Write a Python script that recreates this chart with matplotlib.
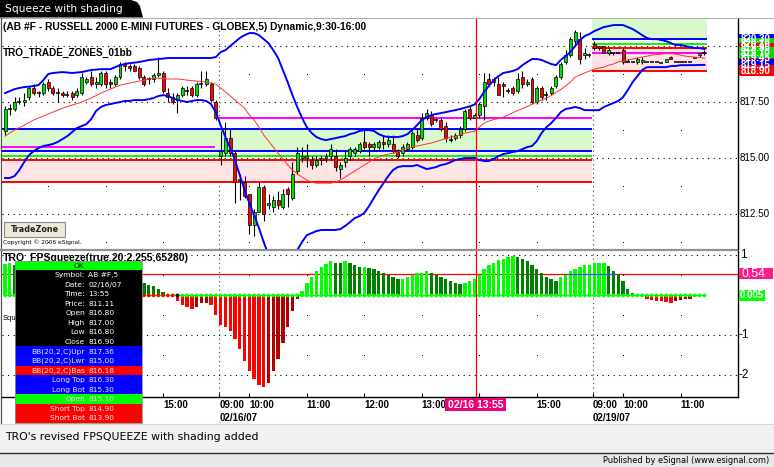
import matplotlib
matplotlib.use("Agg")
import matplotlib.pyplot as plt
import matplotlib.transforms as mtransforms
from matplotlib.patches import Rectangle, Polygon
import numpy as np

NARROW = ['Liberation Sans Narrow', 'Liberation Sans', 'DejaVu Sans']
ARIAL = ['Liberation Sans', 'DejaVu Sans']
VERD = ['DejaVu Sans']
plt.rcParams['font.family'] = ARIAL

# ---------------- data: 5-minute bars (02/15 12:15 .. 02/19 11:20) ----------------
open_ = [816.2, 817.2, 817.2, 817.5, 817.5, 817.7, 818.1, 817.9, 817.9, 818.4,
         818.1, 817.9, 817.9, 817.8, 817.9, 817.8, 817.9, 818.4, 818.6, 818.3,
         818.3, 818.8, 818.4, 818.3, 818.6, 819.2, 819.1, 819.1, 819.0, 818.6,
         818.5, 818.5, 818.7, 818.8, 817.9, 817.7, 817.6, 817.8, 818.0, 818.1,
         817.8, 818.3, 818.3, 818.3, 817.5, 815.1, 815.2, 815.9, 815.2, 814.0,
         813.9, 813.4, 812.0, 812.6, 813.7, 812.9, 812.8, 813.1, 812.8, 813.6,
         813.2, 814.4, 815.0, 815.0, 814.9, 814.7, 815.0, 815.0, 815.1, 815.1,
         814.5, 814.8, 815.1, 815.2, 815.3, 815.7, 815.6, 815.5, 815.5, 815.7,
         815.6, 815.6, 815.3, 815.2, 815.4, 815.5, 816.0, 815.9, 816.8, 816.9,
         816.7, 816.7, 816.4, 815.8, 815.9, 816.0, 816.3, 817.2, 816.8, 816.9,
         817.3, 818.5, 818.5, 818.3, 818.3, 818.0, 818.1, 818.0, 818.6, 818.3,
         818.5, 817.5, 818.1, 817.8, 817.9, 818.2, 818.6, 819.3, 819.6, 820.2,
         820.3, 819.6, 819.6, 820.1, 820.0, 820.0, 819.7, 819.7, 819.7, 819.8,
         819.3, 819.3, 819.3, 819.3, 819.3, 819.3, 819.3, 819.25, 819.3, 819.5,
         819.3, 819.3, 819.3, 819.3, 819.45, 819.6, 819.7]
high_ = [817.3, 817.4, 817.7, 817.7, 817.9, 818.2, 818.3, 818.0, 818.4, 818.5,
         818.2, 818.1, 818.0, 818.0, 818.0, 818.1, 818.8, 818.6, 818.9, 818.6,
         818.9, 818.9, 818.5, 818.7, 819.3, 819.3, 819.2, 819.2, 819.1, 818.7,
         818.6, 818.8, 819.5, 818.9, 818.1, 817.9, 817.9, 818.2, 818.2, 818.2,
         818.4, 818.9, 818.9, 818.4, 817.6, 816.2, 816.6, 816.3, 815.3, 814.3,
         814.2, 813.4, 812.7, 813.9, 813.8, 813.4, 813.3, 813.5, 813.6, 813.7,
         814.8, 815.5, 815.5, 815.6, 815.1, 815.1, 815.1, 815.2, 815.6, 815.4,
         814.8, 815.3, 815.5, 815.5, 815.7, 816.3, 815.7, 815.7, 815.8, 816.0,
         816.0, 816.0, 815.4, 815.6, 815.7, 816.2, 816.3, 817.0, 817.2, 817.1,
         816.8, 816.8, 816.6, 816.0, 816.1, 816.4, 817.2, 817.3, 817.0, 817.5,
         818.8, 818.8, 818.6, 818.6, 818.4, 818.1, 818.2, 818.8, 818.9, 818.5,
         818.6, 818.2, 818.2, 818.0, 818.2, 818.7, 819.3, 819.8, 820.4, 820.7,
         820.6, 819.9, 819.7, 820.2, 820.0, 820.0, 819.9, 819.7, 819.7, 819.9,
         819.4, 819.3, 819.5, 819.5, 819.3, 819.3, 819.3, 819.25, 819.4, 819.55,
         819.3, 819.3, 819.3, 819.3, 819.45, 819.7, 819.8]
low_ = [816.0, 816.9, 817.1, 817.4, 817.3, 817.6, 817.8, 817.7, 817.8, 818.0,
        817.8, 817.5, 817.7, 817.7, 817.6, 817.7, 817.8, 818.3, 818.2, 818.1,
        818.2, 818.1, 818.1, 818.2, 818.5, 818.9, 818.9, 818.9, 818.5, 818.2,
        818.3, 818.4, 818.6, 817.9, 817.5, 817.4, 817.0, 817.7, 817.8, 817.7,
        817.7, 818.1, 818.2, 817.5, 816.7, 814.7, 815.1, 815.1, 813.0, 813.1,
        813.2, 811.6, 811.5, 812.6, 812.2, 812.7, 812.6, 812.7, 812.7, 812.8,
        813.1, 814.3, 814.8, 814.6, 814.5, 814.6, 814.7, 814.8, 814.9, 814.4,
        814.1, 814.6, 814.9, 815.1, 815.2, 815.4, 815.1, 815.3, 815.4, 815.4,
        815.5, 815.2, 815.0, 815.1, 815.3, 815.4, 815.7, 815.8, 816.7, 816.4,
        816.6, 816.2, 815.7, 815.7, 815.8, 815.9, 816.2, 816.7, 816.8, 816.8,
        816.7, 818.2, 818.2, 817.8, 817.7, 817.9, 817.8, 817.9, 818.1, 818.2,
        817.4, 817.4, 817.6, 817.6, 817.8, 818.1, 818.5, 819.2, 819.5, 820.1,
        819.2, 819.4, 819.5, 819.8, 819.8, 819.7, 819.6, 819.6, 819.7, 819.2,
        819.3, 819.3, 819.2, 819.2, 819.3, 819.3, 819.3, 819.25, 819.3, 819.4,
        819.3, 819.3, 819.3, 819.3, 819.45, 819.5, 819.6]
close_ = [817.2, 817.2, 817.5, 817.5, 817.6, 818.1, 817.9, 817.9, 818.3, 818.1,
          817.9, 817.9, 817.8, 817.8, 817.7, 818.0, 818.6, 818.5, 818.3, 818.4,
          818.8, 818.3, 818.3, 818.6, 819.2, 819.1, 819.0, 818.9, 818.6, 818.3,
          818.5, 818.7, 818.8, 818.0, 817.7, 817.5, 817.8, 818.1, 818.0, 817.8,
          818.3, 818.3, 818.5, 817.6, 816.8, 815.3, 815.9, 815.2, 813.9, 814.0,
          813.3, 812.0, 812.6, 813.7, 812.5, 813.0, 813.1, 812.9, 813.4, 813.4,
          814.3, 815.2, 815.1, 815.1, 814.7, 814.9, 814.9, 815.1, 815.4, 814.6,
          814.7, 815.0, 815.4, 815.4, 815.6, 815.5, 815.5, 815.6, 815.7, 815.6,
          815.8, 815.3, 815.1, 815.5, 815.6, 816.1, 815.8, 816.8, 817.0, 816.5,
          816.7, 816.3, 815.9, 815.8, 816.0, 816.3, 817.1, 816.8, 816.9, 817.4,
          818.4, 818.3, 818.4, 817.8, 818.2, 818.0, 817.9, 818.5, 818.3, 818.4,
          817.5, 818.1, 817.7, 817.8, 818.1, 818.6, 819.2, 819.6, 820.3, 820.6,
          819.4, 819.7, 819.6, 819.9, 819.9, 819.7, 819.8, 819.7, 819.7, 819.3,
          819.3, 819.3, 819.4, 819.35, 819.3, 819.3, 819.3, 819.25, 819.4, 819.4,
          819.3, 819.3, 819.3, 819.3, 819.45, 819.7, 819.7]
bb_upper = [817.89, 817.98, 818.07, 818.12, 818.16, 818.18, 818.21, 818.25, 818.47, 818.74,
            818.79, 818.81, 818.83, 818.81, 818.79, 818.81, 818.83, 818.88, 818.92, 818.94,
            818.96, 818.96, 818.96, 819.05, 819.14, 819.19, 819.23, 819.25, 819.28, 819.32,
            819.37, 819.39, 819.41, 819.43, 819.46, 819.46, 819.46, 819.46, 819.46, 819.46,
            819.46, 819.46, 819.46, 819.46, 819.50, 819.72, 819.81, 819.99, 820.17, 820.35,
            820.48, 820.57, 820.57, 820.48, 820.30, 820.12, 819.81, 819.46, 818.92, 818.38,
            817.80, 817.27, 816.78, 816.37, 816.11, 815.93, 815.84, 815.79, 815.84, 815.88,
            815.93, 815.97, 816.06, 816.11, 816.20, 816.24, 816.24, 816.20, 816.06, 815.97,
            815.93, 815.93, 815.93, 815.97, 816.06, 816.24, 816.46, 816.69, 816.82, 816.91,
            816.96, 817.00, 817.04, 817.09, 817.13, 817.18, 817.24, 817.30, 817.38, 817.62,
            817.94, 818.21, 818.47, 818.65, 818.79, 818.83, 818.88, 818.96, 819.14, 819.28,
            819.41, 819.41, 819.37, 819.28, 819.19, 819.14, 819.37, 819.54, 819.72, 819.99,
            820.26, 820.44, 820.53, 820.66, 820.75, 820.84, 820.88, 820.93, 820.93, 820.93,
            820.84, 820.75, 820.62, 820.48, 820.35, 820.30, 820.30, 820.26, 820.21, 820.12,
            820.04, 820.04, 819.99, 819.95, 819.90, 819.90, 819.86]
bb_lower = [814.10, 814.10, 814.19, 814.46, 814.81, 815.12, 815.30, 815.44, 815.53, 815.57,
            815.62, 815.71, 815.84, 815.97, 816.15, 816.33, 816.42, 816.51, 816.73, 817.09,
            817.27, 817.36, 817.40, 817.45, 817.49, 817.54, 817.54, 817.58, 817.58, 817.58,
            817.62, 817.67, 817.76, 817.80, 817.76, 817.67, 817.58, 817.54, 817.49, 817.54,
            817.58, 817.58, 817.54, 817.40, 817.04, 816.46, 815.93, 815.44, 814.90, 814.23,
            813.56, 812.98, 812.45, 811.87, 811.24, 810.66, 810.30, 810.10, 810.00, 810.10,
            810.40, 810.88, 811.24, 811.55, 811.64, 811.73, 811.78, 811.78, 811.78, 811.78,
            811.82, 811.96, 812.13, 812.31, 812.40, 812.54, 812.85, 813.21, 813.56, 813.87,
            814.19, 814.46, 814.59, 814.63, 814.63, 814.63, 814.68, 814.59, 814.50, 814.54,
            814.59, 814.68, 814.72, 814.81, 814.90, 814.95, 814.99, 814.99, 815.00, 814.90,
            814.86, 814.86, 814.95, 815.08, 815.17, 815.21, 815.26, 815.30, 815.39, 815.48,
            815.53, 815.75, 816.11, 816.37, 816.55, 816.78, 817.04, 817.18, 817.22, 817.27,
            817.22, 817.13, 817.13, 817.13, 817.13, 817.27, 817.36, 817.45, 817.54, 817.71,
            818.03, 818.38, 818.65, 818.92, 819.05, 819.05, 819.05, 819.05, 819.05, 819.10,
            819.10, 819.14, 819.14, 819.14, 819.14, 819.15, 819.15]
bb_basis = [815.97, 816.11, 816.24, 816.35, 816.46, 816.58, 816.69, 816.78, 816.87, 816.96,
            817.04, 817.13, 817.22, 817.29, 817.36, 817.42, 817.49, 817.58, 817.67, 817.78,
            817.89, 817.98, 818.07, 818.16, 818.25, 818.29, 818.34, 818.38, 818.43, 818.47,
            818.52, 818.54, 818.56, 818.54, 818.52, 818.52, 818.52, 818.50, 818.47, 818.45,
            818.43, 818.41, 818.38, 818.34, 818.29, 818.12, 817.94, 817.76, 817.58, 817.40,
            817.22, 816.91, 816.69, 816.37, 816.02, 815.75, 815.48, 815.21, 814.95, 814.68,
            814.46, 814.28, 814.14, 814.01, 813.92, 813.87, 813.87, 813.87, 813.87, 813.92,
            814.01, 814.14, 814.28, 814.41, 814.54, 814.68, 814.81, 814.95, 815.04, 815.12,
            815.17, 815.21, 815.26, 815.35, 815.44, 815.48, 815.53, 815.57, 815.62, 815.66,
            815.73, 815.79, 815.86, 815.93, 815.97, 816.04, 816.11, 816.15, 816.18, 816.37,
            816.55, 816.64, 816.71, 816.75, 816.82, 816.91, 817.02, 817.11, 817.20, 817.29,
            817.40, 817.49, 817.58, 817.67, 817.78, 817.92, 818.05, 818.21, 818.38, 818.61,
            818.70, 818.79, 818.88, 818.96, 819.01, 819.05, 819.14, 819.19, 819.28, 819.32,
            819.37, 819.41, 819.46, 819.50, 819.54, 819.59, 819.61, 819.63, 819.68, 819.66,
            819.63, 819.59, 819.54, 819.52, 819.50, 819.48, 819.45]

# trade zones (bar-index spans) and levels
zone_start = [-0.63, 122.5]
zone_end = [122.5, 146.6]
long_top = [816.30, 821.30]
long_bot = [815.30, 820.30]
zone_open = [815.10, 820.10]
short_top = [814.90, 819.90]
short_bot = [813.90, 818.90]
prev_close_start = [-0.63, 44.6, 122.5]
prev_close_end = [43.8, 122.5, 146.6]
prev_close = [815.48, 816.78, 819.67]

# squeeze oscillator
hist = [0.78, 0.82, 0.75, 0.70, 0.66, 0.62, 0.60, 0.62, 0.66, 0.70,
        0.72, 0.70, 0.66, 0.62, 0.58, 0.60, 0.63, 0.66, 0.70, 0.72,
        0.68, 0.62, 0.56, 0.50, 0.45, 0.41, 0.38, 0.35, 0.32, 0.30,
        0.25, 0.24, 0.15, 0.08, 0.00, -0.05, -0.15, -0.25, -0.28, -0.33,
        -0.28, -0.20, -0.18, -0.25, -0.50, -0.75, -0.80, -0.88, -1.08, -1.33,
        -1.65, -1.90, -2.10, -2.25, -2.30, -2.20, -1.90, -1.60, -1.20, -0.80,
        -0.40, -0.10, 0.10, 0.30, 0.45, 0.60, 0.70, 0.78, 0.85, 0.82,
        0.80, 0.85, 0.80, 0.75, 0.70, 0.70, 0.68, 0.65, 0.60, 0.55,
        0.50, 0.45, 0.40, 0.42, 0.45, 0.50, 0.55, 0.55, 0.60, 0.55,
        0.50, 0.45, 0.40, 0.35, 0.30, 0.28, 0.30, 0.35, 0.40, 0.50,
        0.65, 0.75, 0.82, 0.88, 0.92, 0.95, 0.98, 0.95, 0.90, 0.85,
        0.75, 0.65, 0.55, 0.45, 0.40, 0.36, 0.46, 0.52, 0.60, 0.66,
        0.70, 0.75, 0.77, 0.80, 0.80, 0.81, 0.73, 0.62, 0.50, 0.35,
        0.17, 0.06, 0.00, 0.00, -0.10, -0.12, -0.13, -0.14, -0.16, -0.18,
        -0.13, -0.12, -0.10, -0.08, 0.00, 0.00, 0.00]
squeeze_runs = [("g", 29), ("r", 7), ("k", 1), ("g", 110)]
osc_level = 0.54
osc_blue_span = [117.5, 127.5]

tick_pos = [33, 44.75, 51, 63, 75, 87, 99, 111, 122.75, 129, 141]
tick_time = ["15:00", "09:00", "10:00", "11:00", "12:00", "13:00", "", "15:00",
             "09:00", "10:00", "11:00"]
tick_date = ["", "02/16/07", "", "", "", "", "", "", "02/19/07", "", ""]
hour_lines = [9, 21, 33, 51, 63, 75, 87, 99, 111, 129, 141]
day_breaks = [44.75, 122.75]
price_ticks = [812.50, 815.00, 817.50]
price_grid = [812.5, 815.0, 817.5, 820.0]
osc_ticks = [1, -1, -2]
cursor_bar = 98.3

right_boxes = [(820.30, "820.30", "#0000ff"), (820.10, "820.10", "#00e000"),
               (819.90, "819.90", "#ff0000"), (819.45, "819.45", "#ff0000"),
               (819.15, "819.15", "#0000ff"), (818.90, "818.90", "#ff0000"),
               (819.70, "819.70", "#00e000")]

dw_rows = [("OK", "", "#00ff00", "black"),
           ("Symbol:", "AB #F,5", "#000000", "white"),
           ("Date:", "02/16/07", "#000000", "white"),
           ("Time:", "13:55", "#000000", "white"),
           ("Price:", "811.11", "#000000", "white"),
           ("Open", "816.80", "#000000", "white"),
           ("High", "817.00", "#000000", "white"),
           ("Low", "816.80", "#000000", "white"),
           ("Close", "816.90", "#000000", "white"),
           ("BB(20,2,C)Upr", "817.36", "#0000ff", "#e8e8ff"),
           ("BB(20,2,C)Lwr", "815.00", "#0000ff", "#e8e8ff"),
           ("BB(20,2,C)Bas", "816.18", "#ff0000", "#ffe8e8"),
           ("Long Top", "816.30", "#0000ff", "#e8e8ff"),
           ("Long Bot", "815.30", "#0000ff", "#e8e8ff"),
           ("Open     ", "815.10", "#00ff00", "#f0fff0"),
           ("Short Top", "814.90", "#ff0000", "#ffe8e8"),
           ("Short Bot", "813.90", "#ff0000", "#ffe8e8")]

# ---------------- figure ----------------
n = len(close_)
assert all(len(a) == n for a in (open_, high_, low_, bb_upper, bb_lower, bb_basis, hist))
x = np.arange(n)
W, H = 774, 467
fig = plt.figure(figsize=(W / 100, H / 100), dpi=100, facecolor='white')


def rect(l, t, r, b):
    return [l / W, 1 - b / H, (r - l) / W, (b - t) / H]


bg = fig.add_axes([0, 0, 1, 1], zorder=0)
bg.set_xlim(0, W); bg.set_ylim(H, 0); bg.axis('off')
bg.add_patch(Rectangle((0, 423.5), W, 29, fc='#f1f1f1', ec='none'))
bg.add_patch(Rectangle((0, 453), W, 14, fc='#e8e8e8', ec='none'))
bg.plot([0, W], [452.5, 452.5], color='#303030', lw=1)
bg.plot([0, W], [423.5, 423.5], color='#d8d8d8', lw=0.8)
bg.plot([0, W], [17.5, 17.5], color='#b0b0b0', lw=0.8)
bg.add_patch(Polygon([(0, 0), (131, 0), (137, 2), (140, 6), (143, 17.5), (0, 17.5)],
                     closed=True, fc='black', ec='none'))
bg.plot([0.6, 0.6], [17.5, 423], color='#505050', lw=0.9)
bg.plot([1, 738], [250, 250], color='#909090', lw=1.6)

ax1 = fig.add_axes(rect(2, 19, 738, 249), zorder=2)
ax2 = fig.add_axes(rect(2, 251, 738, 397), zorder=2)
for ax in (ax1, ax2):
    ax.set_facecolor('none')
    ax.set_xlim(-0.63, 153.0)
    for s in ('top', 'left', 'bottom'):
        ax.spines[s].set_visible(False)
    ax.spines['right'].set_linewidth(1.0)
    ax.set_yticks([])
ax1.set_xticks([])
ax2.spines['bottom'].set_visible(True)
ax2.spines['bottom'].set_linewidth(1.0)
ax1.set_ylim(810.93, 821.20)
ax2.set_ylim(-2.54, 1.11)
ax2.set_xticks(tick_pos)
ax2.set_xticklabels([])
ax2.tick_params(axis='x', direction='in', length=3, width=0.8, color='black')

# grid
for p in price_grid:
    ax1.axhline(p, color='black', lw=0.8, ls=(0, (1, 4)), zorder=0.5)
for p in osc_ticks:
    ax2.axhline(p, color='black', lw=0.8, ls=(0, (1, 4)), zorder=0.5)
for d in day_breaks:
    ax1.axvline(d, color='#404040', lw=0.8, ls=(0, (1, 3)), zorder=0.5)
    ax2.axvline(d, color='#404040', lw=0.8, ls=(0, (1, 3)), zorder=0.5)
mid_p = [811.25, 813.75, 816.25, 818.75]
mid_o = [-1.5, -0.5, 0.5]
for h in hour_lines:
    ax1.plot([h] * len(mid_p), mid_p, ls='none', marker='s', ms=0.7, mew=0,
             color='black', zorder=0.5)
    ax2.plot([h] * len(mid_o), mid_o, ls='none', marker='s', ms=0.7, mew=0,
             color='black', zorder=0.5)

# trade zones
for k in range(len(zone_start)):
    xs = [zone_start[k], zone_end[k]]
    ax1.fill_between(xs, long_bot[k], long_top[k], color='#d9f9cd', lw=0, zorder=1)
    ax1.fill_between(xs, short_bot[k], short_top[k], color='#fde5e5', lw=0, zorder=1)
    ax1.hlines([long_top[k], long_bot[k]], xs[0], xs[1], colors='#0000ff', lw=1.4, zorder=2)
    ax1.hlines(zone_open[k], xs[0], xs[1], colors='#00ff00', lw=1.4, zorder=2)
    ax1.hlines([short_top[k], short_bot[k]], xs[0], xs[1], colors='#ff0000', lw=1.4, zorder=2)
ax1.hlines(prev_close, prev_close_start, prev_close_end, colors='#ff00ff', lw=1.4, zorder=2)

# candles
o = np.array(open_); c = np.array(close_)
ax1.vlines(x, low_, high_, colors='black', lw=0.8, zorder=4)
up = c > o; dn = c < o; eq = c == o
ax1.bar(x[up], (c - o)[up], bottom=o[up], width=0.62, color='#00dd00',
        edgecolor='black', lw=0.5, zorder=5)
ax1.bar(x[dn], (c - o)[dn], bottom=o[dn], width=0.62, color='#ff0000',
        edgecolor='black', lw=0.5, zorder=5)
ax1.hlines(o[eq], x[eq] - 0.42, x[eq] + 0.42, colors='black', lw=1.1, zorder=5)

# bollinger bands
ax1.plot(x, bb_basis, color='#ff3030', lw=0.7, zorder=6)
ax1.plot(x, bb_upper, color='#0000ff', lw=1.4, zorder=6)
ax1.plot(x, bb_lower, color='#0000ff', lw=1.4, zorder=6)

# cursor
ax1.axvline(cursor_bar, color='#ff0000', lw=0.9, zorder=7)
ax2.axvline(cursor_bar, color='#ff0000', lw=0.9, zorder=7)

# oscillator
hv = np.array(hist)
prev = np.concatenate([[hv[0]], hv[:-1]])
cols = []
for v, pv in zip(hv, prev):
    if v >= 0:
        cols.append('#00ff00' if v >= pv else '#008000')
    else:
        cols.append('#ff0000' if v <= pv else '#b00000')
ax2.bar(x, hv, width=0.7, color=cols, lw=0, zorder=3)
ax2.axhline(osc_level, color='#ff0000', lw=0.9, zorder=2)
ax2.hlines(osc_level, osc_blue_span[0], osc_blue_span[1], colors='#3050ff', lw=0.9, zorder=4)
sq = []
for col, cnt in squeeze_runs:
    sq += [col] * cnt
sqc = {'g': '#00ff00', 'r': '#ff0000', 'k': '#000000'}
ax2.plot(x, np.zeros(n), color='#00ff00', lw=1.0, zorder=4)
ax2.scatter(x, np.zeros(n), s=7, c=[sqc[s] for s in sq], marker='o', lw=0, zorder=5)

# ---------------- text & overlays ----------------
ov = fig.add_axes([0, 0, 1, 1], zorder=5)
ov.set_xlim(0, W); ov.set_ylim(H, 0); ov.axis('off')
fits = []


def T(xp, yp, s, w=None, size=7, ha='left', va='center', ax=None, **kw):
    a = ax if ax is not None else ov
    t = a.text(xp, yp, s, ha=ha, va=va, fontsize=size, **kw)
    if w:
        fits.append((t, w))
    return t


T(5, 9, "Squeeze with shading", 118, color='white', family=VERD)
T(3, 26.5, "(AB #F - RUSSELL 2000 E-MINI FUTURES - GLOBEX,5) Dynamic,9:30-16:00", 364,
  weight='bold', family=NARROW)
T(3, 52.5, "TRO_TRADE_ZONES_01bb", 130, weight='bold', family=NARROW)
ov.add_patch(Rectangle((4, 222), 61, 15, fc='#ece9d8', ec='#8a8a8a', lw=0.8))
T(34.5, 229.8, "TradeZone", 48, ha='center', weight='bold', family=VERD, color='#202020')
T(3, 242, "Copyright \u00a9 2006 eSignal.", 78, family=VERD, color='black')
T(3, 258, "TRO_FPSqueeze(true,20,2,255,65280)", 189, family=NARROW, weight='bold')
T(3, 318, "Squeeze", 30, family=NARROW)
T(5, 436.5, "TRO's revised FPSQUEEZE with shading added", 253, family=VERD)
T(769, 460.5, "Published by eSignal (www.esignal.com)", 169, ha='right', family=VERD, size=6)

# right axis labels
tr1 = mtransforms.blended_transform_factory(ov.transData, ax1.transData)
tr2 = mtransforms.blended_transform_factory(ov.transData, ax2.transData)
for p in price_ticks:
    T(740, p, "%.2f" % p, 30, ax=ov, transform=tr1, family=NARROW)
for p in osc_ticks:
    T(740 if p > 0 else 738.5, p, "%d" % p, None, size=8.5, transform=tr2, family=NARROW)
for val, lab, colr in right_boxes:
    ov.add_patch(Rectangle((739, val - 0.245), 35, 0.49, transform=tr1, fc=colr, ec='none'))
    T(741, val, lab, 30, transform=tr1, family=NARROW, color='white', weight='bold')
ov.add_patch(Rectangle((739, osc_level - 0.14), 34, 0.28, transform=tr2, fc='#ff1a8c', ec='none'))
T(741, osc_level, "%.2f" % osc_level, 24, transform=tr2, family=NARROW, color='white')
ov.add_patch(Rectangle((739, -0.145), 26, 0.28, transform=tr2, fc='#00ff00', ec='none'))
T(740, 0.0, "0.005", 24, transform=tr2, family=NARROW, color='white', weight='bold')

# x tick labels
trx = mtransforms.blended_transform_factory(ax2.transData, ov.transData)
tick_texts = []
for p, tl, dl in zip(tick_pos, tick_time, tick_date):
    if tl:
        tick_texts.append(T(p, 404.5, tl, None, transform=trx, weight='bold', family=NARROW))
    if dl:
        tick_texts.append(T(p, 418, dl, None, transform=trx, weight='bold', family=NARROW))
ov.add_patch(Rectangle((445, 397.5), 61, 13.5, fc='#f0007a', ec='none', zorder=3))
T(475.5, 404.5, "02/16 13:55", 56, ha='center', weight='bold', family=NARROW,
  color='white', zorder=4)

# data window
x0, x1, top, rh = 15, 142, 260.7, 9.53
dw_texts = []
for r, (lab, val, fc, tc) in enumerate(dw_rows):
    y0 = top + r * rh
    ov.add_patch(Rectangle((x0, y0), x1 - x0, rh, fc=fc, ec='none', zorder=3))
    if lab == "OK":
        dw_texts.append(T((x0 + x1) / 2, y0 + rh / 2 + 0.3, lab, None, ha='center',
                          color=tc, family=VERD, zorder=4))
    else:
        dw_texts.append(T(85, y0 + rh / 2 + 0.3, lab.strip(), None, ha='right',
                          color=tc, family=VERD, zorder=4))
        dw_texts.append(T(88.5, y0 + rh / 2 + 0.3, val, None, ha='left',
                          color=tc, family=VERD, zorder=4))
ov.add_patch(Rectangle((x0, top), x1 - x0, rh * len(dw_rows), fill=False,
                       ec='#909090', lw=0.6, zorder=4))

# sizing references (measured, then removed)
ref_dw = T(300, 300, "BB(20,2,C)Upr", 54, family=VERD)
ref_tk = T(300, 300, "09:00", 25, weight='bold', family=NARROW)

fig.canvas.draw()
rnd = fig.canvas.get_renderer()
for t, w in fits:
    bb = t.get_window_extent(renderer=rnd)
    if bb.width > 0:
        t.set_fontsize(t.get_fontsize() * w / bb.width)
for t in dw_texts:
    t.set_fontsize(ref_dw.get_fontsize())
for t in tick_texts:
    t.set_fontsize(ref_tk.get_fontsize())
ref_dw.remove()
ref_tk.remove()

fig.savefig("out.png", dpi=100, facecolor='white')
